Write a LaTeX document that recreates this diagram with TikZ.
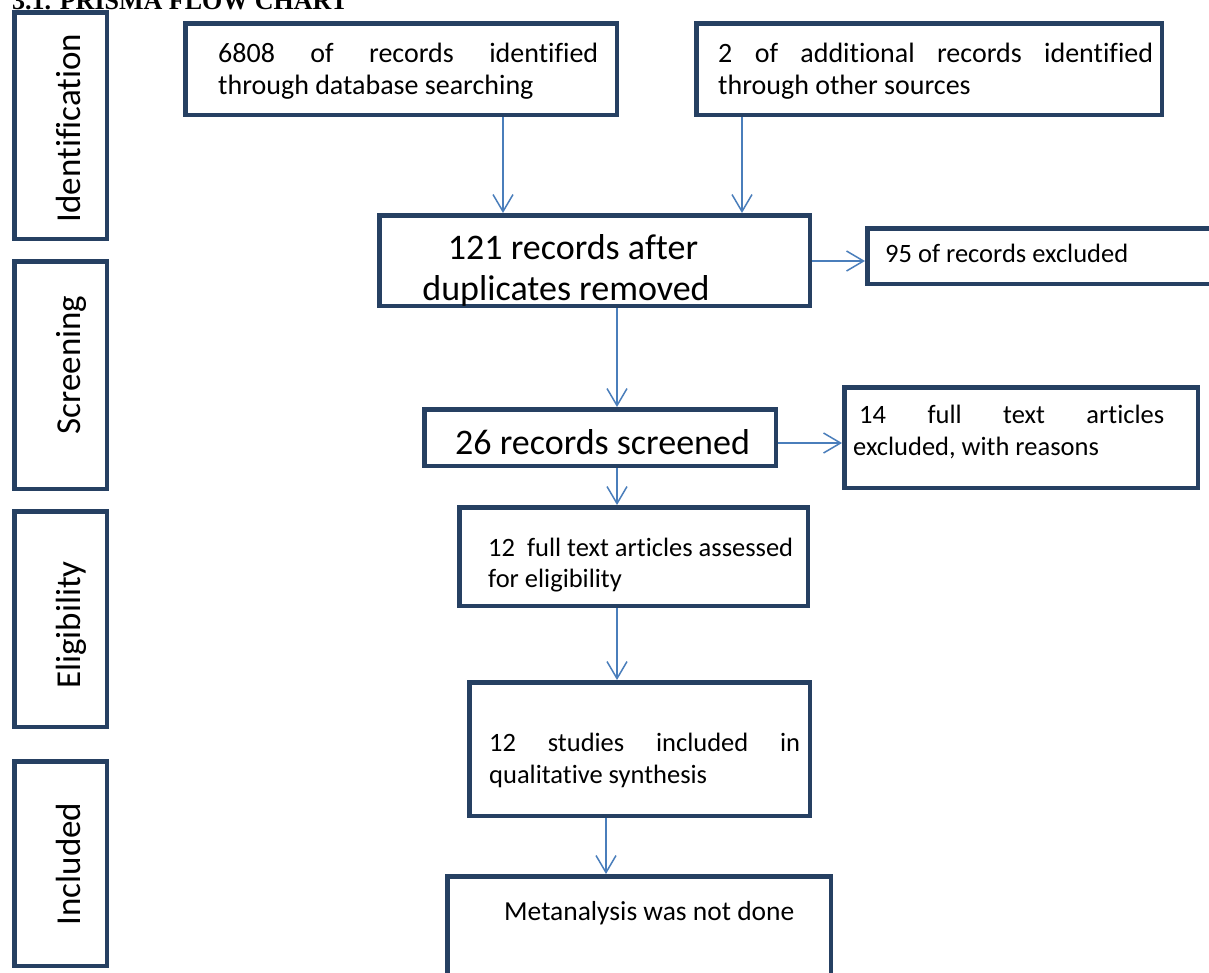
\documentclass[tikz,border=0pt]{standalone}
\usepackage{fontspec}
\setmainfont{Carlito}[Ligatures={NoCommon}]
\newfontfamily\headfont{Liberation Serif}
\usetikzlibrary{arrows.meta,calc}
\definecolor{boxblue}{RGB}{38,64,98}
\definecolor{arrblue}{RGB}{74,126,187}
\tikzset{
  box/.style={draw=boxblue, line width=4.5pt, rectangle, inner sep=0pt, fill=none},
  arr/.style={draw=arrblue, line width=1.5pt, -{Straight Barb[length=17pt,width=20pt]}},
  txt/.style={inner sep=0pt, anchor=base west},
  ctxt/.style={inner sep=0pt, anchor=base},
  fbig/.style={font=\fontsize{36}{42}\selectfont},
  fmid/.style={font=\fontsize{28}{32}\selectfont},
  fsml/.style={font=\fontsize{26.5}{31}\selectfont},
  side/.style={inner sep=0pt, anchor=base, rotate=90, font=\fontsize{35}{42}\selectfont},
}
\begin{document}
\begin{tikzpicture}[x=1pt,y=-1pt]
\useasboundingbox (0,0) rectangle (1209,972);
\clip (0,0) rectangle (1209,972);
\fill[white] (0,0) rectangle (1209,972);

% heading (cut at the top)
\node[txt, font=\headfont\bfseries\fontsize{26}{30}\selectfont] (head) at (12,9) {3.1. PRISMA FLOW CHART};

% side boxes
\node[box, minimum width=92.5pt, minimum height=226.5pt] (sid) at (60.5,125.5) {};
\node[box, minimum width=92.5pt, minimum height=227.5pt] (ssc) at (60.5,375) {};
\node[box, minimum width=92.5pt, minimum height=215.5pt] (sel) at (60.5,619) {};
\node[box, minimum width=92.5pt, minimum height=204.5pt] (sin) at (60.5,863.5) {};
\node[side] (tid) at (80,128) {Identification};
\node[side] (tsc) at (80,365) {Screening};
\node[side] (tel) at (80,625) {Eligibility};
\node[side] (tin) at (80,864) {Included};

% main boxes
\node[box, minimum width=431.5pt, minimum height=91.5pt] (b1) at (401,69) {};
\node[box, minimum width=465.5pt, minimum height=91.5pt] (b2) at (929,69) {};
\node[box, minimum width=430.5pt, minimum height=90.5pt] (b121) at (594.5,260.5) {};
\node[box, minimum width=370.5pt, minimum height=55.5pt] (b95) at (1052.5,256) {};
\node[box, minimum width=351.5pt, minimum height=56.5pt] (b26) at (600,437.5) {};
\node[box, minimum width=353.5pt, minimum height=100.5pt] (b14) at (1021,437.5) {};
\node[box, minimum width=348.5pt, minimum height=98.5pt] (b12a) at (633.5,556.5) {};
\node[box, minimum width=340.5pt, minimum height=133.5pt] (b12b) at (639.5,749) {};
\node[box, minimum width=383.5pt, minimum height=131.5pt] (bm) at (639,942) {};

% texts
\node[txt, fmid] (t1a) at (218,62) {\makebox[380pt][s]{6808 of records identified}};
\node[txt, fmid] (t1b) at (218,94) {through database searching};
\node[txt, fmid] (t2a) at (718,62) {\makebox[435pt][s]{2 of additional records identified}};
\node[txt, fmid] (t2b) at (718,94) {through other sources};
\node[ctxt, fbig] (t121a) at (573,259) {121 records after};
\node[ctxt, fbig] (t121b) at (566,300) {duplicates removed};
\node[txt, fsml] (t95) at (885,262) {95 of records excluded};
\node[txt, fbig] (t26) at (455,454) {26 records screened};
\node[txt, fsml] (t14a) at (859,423) {\makebox[305pt][s]{14 full text articles}};
\node[txt, fsml] (t14b) at (853,455) {excluded, with reasons};
\node[txt, fsml] (t12aa) at (488,556) {12\ \ full text articles assessed};
\node[txt, fsml] (t12ab) at (488,587) {for eligibility};
\node[txt, fsml] (t12ba) at (489,751) {\makebox[311pt][s]{12 studies included in}};
\node[txt, fsml] (t12bb) at (489,783) {qualitative synthesis};
\node[txt, font=\fontsize{27.5}{32}\selectfont] (tm) at (504,920) {Metanalysis was not done};

% connector positions
\coordinate (xa) at (503,0);
\coordinate (xb) at (742,0);
\coordinate (xc) at (617,0);
\coordinate (xd) at (606,0);
\coordinate (ya) at (0,261);
\coordinate (yb) at (0,443);

\draw[arr] (b1.south -| xa) -- (b121.north -| xa);
\draw[arr] (b2.south -| xb) -- (b121.north -| xb);
\draw[arr] (b121.east |- ya) -- (b95.west |- ya);
\draw[arr] (b121.south -| xc) -- (b26.north -| xc);
\draw[arr] (b26.east |- yb) -- (b14.west |- yb);
\draw[arr] (b26.south -| xc) -- (b12a.north -| xc);
\draw[arr] (b12a.south -| xc) -- (b12b.north -| xc);
\draw[arr] (b12b.south -| xd) -- (bm.north -| xd);
\end{tikzpicture}
\end{document}
